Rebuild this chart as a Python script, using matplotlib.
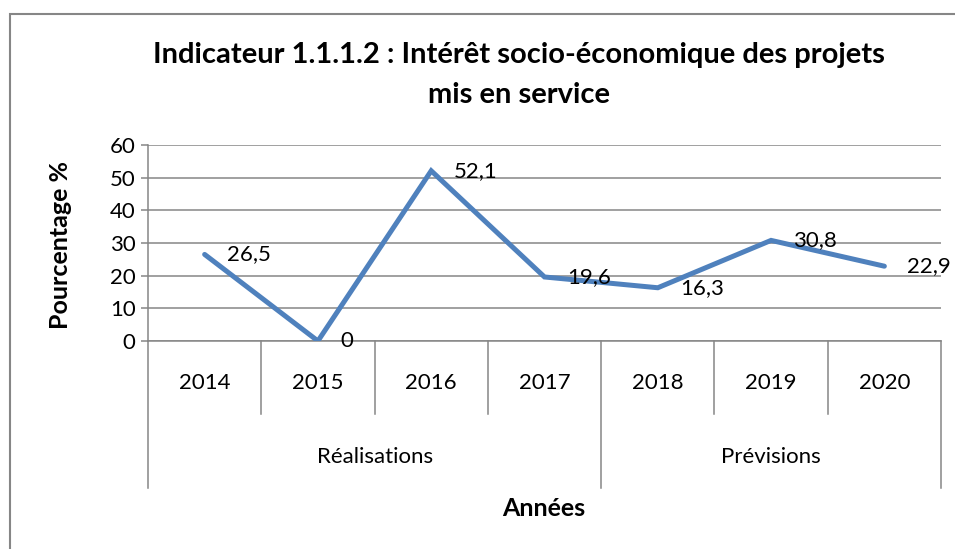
import matplotlib
matplotlib.use("Agg")
import matplotlib.pyplot as plt
from matplotlib.patches import Rectangle

plt.rcParams["font.family"] = ["Lato", "DejaVu Sans"]

years = ["2014", "2015", "2016", "2017", "2018", "2019", "2020"]
values = [26.5, 0, 52.1, 19.6, 16.3, 30.8, 22.9]
value_labels = ["26,5", "0", "52,1", "19,6", "16,3", "30,8", "22,9"]
groups = ["Réalisations", "Prévisions"]
group_sizes = [4, 3]

BLUE = "#4F81BD"
GRID = "#868686"
W, H = 955, 549
FS = 16

fig = plt.figure(figsize=(W / 100, H / 100), dpi=100)
# chart border: only top and left edges fall inside the picture
fig.patches.append(Rectangle((10 / W, -0.2), 1.2, 1.2 - 14 / H, transform=fig.transFigure,
                             fill=False, ec=GRID, lw=1.5))

ax = fig.add_axes([148 / W, (H - 341) / H, (941 - 148) / W, (341 - 145) / H])
x = list(range(len(years)))
ax.plot(x, values, color=BLUE, lw=3.6, solid_capstyle="round", solid_joinstyle="miter", zorder=3)
for xi, v, lab in zip(x, values, value_labels):
    ax.annotate(lab, (xi, v), xytext=(16, 0), textcoords="offset points",
                va="center", ha="left", fontsize=FS, color="black", zorder=4)

ax.set_xlim(-0.5, len(years) - 0.5)
ax.set_ylim(0, 60)
ax.set_yticks(range(0, 61, 10))
ax.grid(axis="y", color=GRID, lw=1.1)
ax.set_axisbelow(True)
for s in ["top", "right", "bottom"]:
    ax.spines[s].set_visible(False)
ax.spines["left"].set_color(GRID)
ax.spines["left"].set_linewidth(1.1)
ax.tick_params(axis="y", length=5, color=GRID, width=1.1, labelsize=FS, pad=4)
ax.set_xticks([])

# multi-level category axis
tr = ax.get_xaxis_transform()
y_year = -(414 - 341) / 196
y_grp = -(488 - 341) / 196
ax.plot([-0.5, len(years) - 0.5], [0, 0], transform=tr, color=GRID, lw=1.1, clip_on=False)
bounds = [0]
for g in group_sizes:
    bounds.append(bounds[-1] + g)
for i in range(len(years) + 1):
    bottom = y_grp if i in bounds else y_year
    ax.plot([i - 0.5, i - 0.5], [0, bottom], transform=tr, color=GRID, lw=1.1, clip_on=False)
for xi, yr in zip(x, years):
    ax.text(xi, -(383 - 341) / 196, yr, transform=tr, ha="center", va="center", fontsize=FS)
for g, a, b in zip(groups, bounds[:-1], bounds[1:]):
    ax.text((a + b - 1) / 2, -(457 - 341) / 196, g, transform=tr, ha="center", va="center", fontsize=FS)

fig.text(544 / W, 1 - 509 / H, "Années", ha="center", va="center", fontsize=18, fontweight="bold")
fig.text(60 / W, 1 - 245 / H, "Pourcentage %", ha="center", va="center", rotation=90,
         fontsize=18, fontweight="bold")
fig.text(519 / W, 1 - 55 / H, "Indicateur 1.1.1.2 : Intérêt socio-économique des projets",
         ha="center", va="center", fontsize=21, fontweight="bold")
fig.text(519 / W, 1 - 95 / H, "mis en service", ha="center", va="center", fontsize=21,
         fontweight="bold")

fig.savefig("out.png", dpi=100)
